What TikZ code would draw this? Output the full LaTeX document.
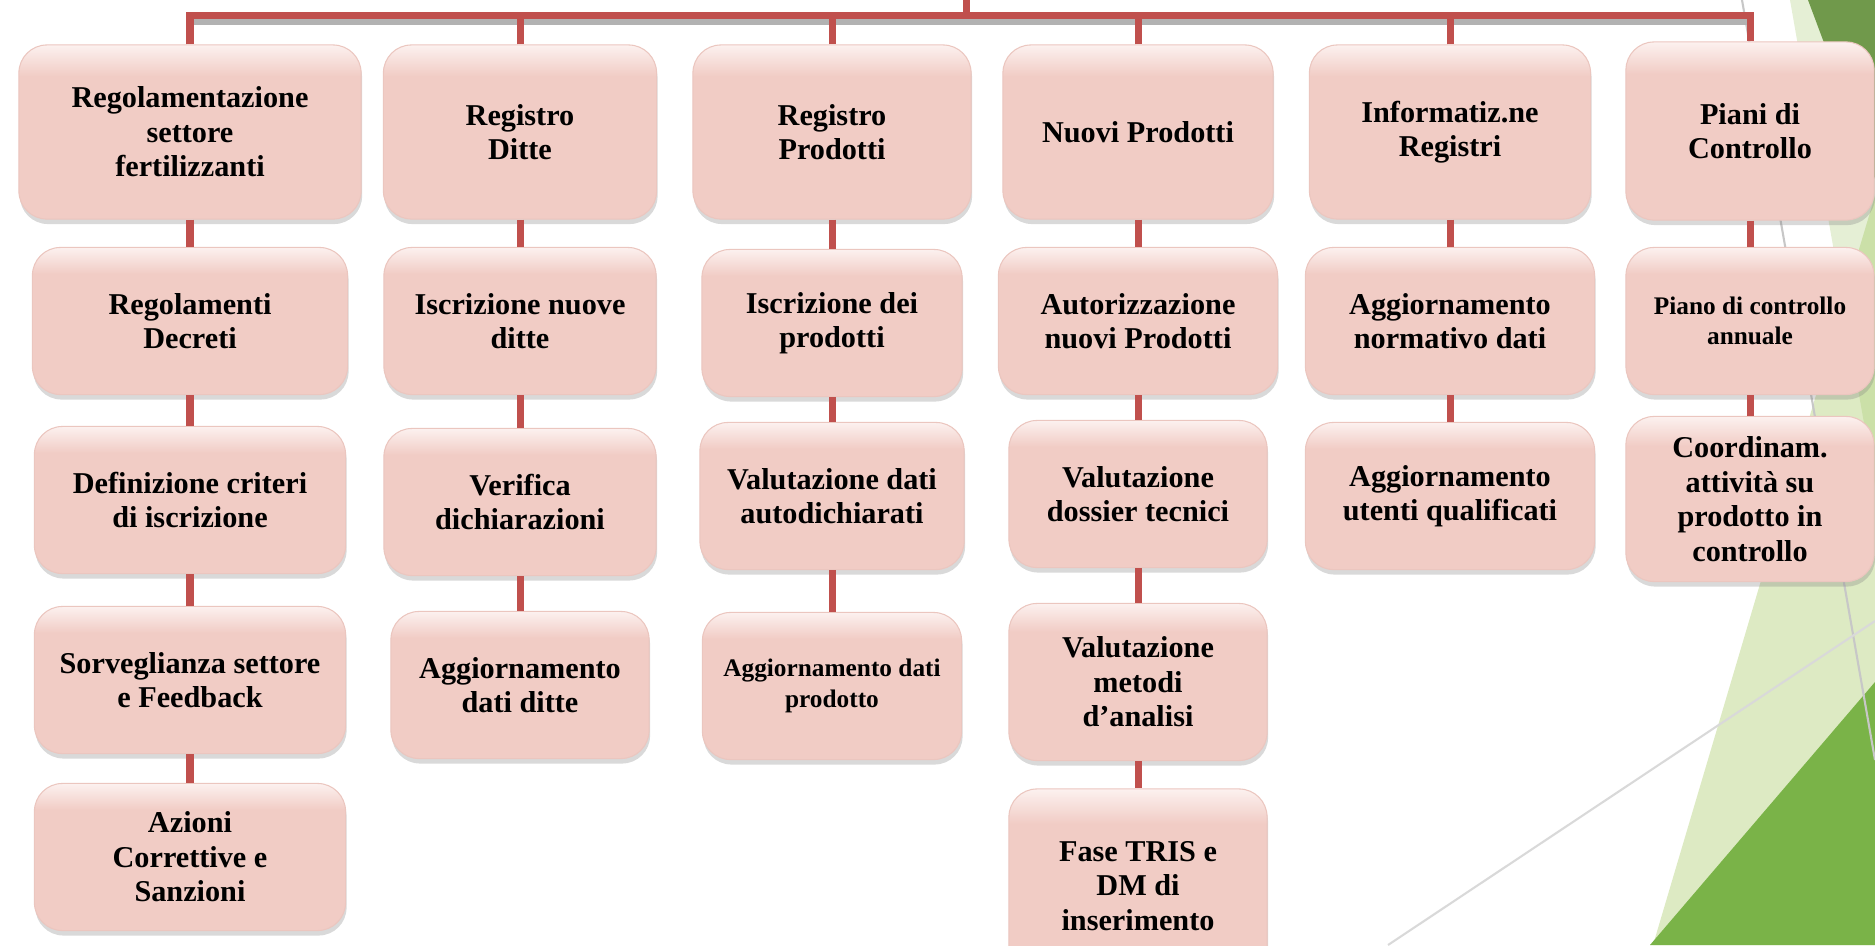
\documentclass[tikz,border=0pt]{standalone}
\usepackage{fontspec}
\setmainfont{Liberation Serif}
\usetikzlibrary{shadows}
\definecolor{barred}{HTML}{C0504D}
\definecolor{boxpink}{HTML}{F1CCC5}
\definecolor{boxtop}{HTML}{FCF1EF}
\definecolor{boxedge}{HTML}{EBC6BF}
\definecolor{leafpale}{HTML}{E5EFD5}
\definecolor{leaflight}{HTML}{DDEAC3}
\definecolor{leafmix}{HTML}{CBE0A8}
\definecolor{leafdark}{HTML}{70994B}
\definecolor{leafgreen}{HTML}{7AB348}
\pgfdeclareverticalshading{boxbevel}{100bp}{color(0bp)=(boxpink); color(25bp)=(boxpink);
  color(66bp)=(boxpink); color(75bp)=(boxtop); color(100bp)=(boxtop)}

\begin{document}
\begin{tikzpicture}[x=0.01cm,y=-0.01cm,
    box/.style={rectangle,rounded corners=0.28cm,draw=boxedge,line width=0.3pt,
      shade,shading=boxbevel,
      align=center,inner sep=2pt,font=\bfseries\fontsize{8.6}{9.8}\selectfont,
      drop shadow={shadow xshift=0.01cm,shadow yshift=-0.05cm,opacity=0.3}},
    head/.style={box,minimum height=1.74cm},
    item/.style={box,minimum height=1.47cm},
    small/.style={font=\bfseries\fontsize{7.2}{8.6}\selectfont},
    link/.style={draw=barred,line width=0.07cm},
    barshadow/.style={draw=black!30,line width=0.06cm}]
    \useasboundingbox (0,0) rectangle (1875,945);
    \clip (0,0) rectangle (1875,945);

    % background on the right
    \fill[leafpale] (1790,0) -- (1875,0) -- (1875,486) -- cycle;
    \fill[leaflight] (1653,945) -- (1875,196) -- (1875,945) -- cycle;
    \fill[leafmix] (1875,196) -- (1843,303) -- (1875,486) -- cycle;
    \fill[leafdark] (1808,0) -- (1875,0) -- (1875,179) -- cycle;
    \fill[leafgreen] (1650,945) -- (1875,682) -- (1875,945) -- cycle;
    \draw[black!22,line width=0.6pt] (1742,0) -- (1875,760);
    \draw[black!15,line width=0.6pt] (1388,945) -- (1875,621);

    % column 1
    \draw (190,132) node[head,minimum width=3.42cm] (c1a) {Regolamentazione\\settore\\fertilizzanti};
    \draw (190,321) node[item,minimum width=3.15cm] (c1b) {Regolamenti\\Decreti};
    \draw (190,500) node[item,minimum width=3.11cm] (c1c) {Definizione criteri\\di iscrizione};
    \draw (190,680) node[item,minimum width=3.11cm] (c1d) {Sorveglianza settore\\e Feedback};
    \draw (190,857) node[item,minimum width=3.11cm] (c1e) {Azioni\\Correttive e\\Sanzioni};

    % column 2
    \draw (520,132) node[head,minimum width=2.73cm] (c2a) {Registro\\Ditte};
    \draw (520,321) node[item,minimum width=2.72cm] (c2b) {Iscrizione nuove\\ditte};
    \draw (520,502) node[item,minimum width=2.72cm] (c2c) {Verifica\\dichiarazioni};
    \draw (520,685) node[item,minimum width=2.58cm] (c2d) {Aggiornamento\\dati ditte};

    % column 3
    \draw (832,132) node[head,minimum width=2.78cm] (c3a) {Registro\\Prodotti};
    \draw (832,323) node[item,minimum width=2.60cm] (c3b) {Iscrizione dei\\prodotti};
    \draw (832,496) node[item,minimum width=2.64cm] (c3c) {Valutazione dati\\autodichiarati};
    \draw (832,686) node[item,small,minimum width=2.59cm] (c3d) {Aggiornamento dati\\prodotto};

    % column 4
    \draw (1138,132) node[head,minimum width=2.70cm] (c4a) {Nuovi Prodotti};
    \draw (1138,321) node[item,minimum width=2.79cm] (c4b) {Autorizzazione\\nuovi Prodotti};
    \draw (1138,494) node[item,minimum width=2.58cm] (c4c) {Valutazione\\dossier tecnici};
    \draw (1138,682) node[item,minimum width=2.58cm,minimum height=1.57cm] (c4d) {Valutazione\\metodi\\d’analisi};
    \draw (1138,886) node[item,minimum width=2.58cm,minimum height=1.94cm] (c4e) {Fase TRIS e\\DM di\\inserimento};

    % column 5
    \draw (1450,132) node[head,minimum width=2.81cm] (c5a) {Informatiz.ne\\Registri};
    \draw (1450,321) node[item,minimum width=2.89cm] (c5b) {Aggiornamento\\normativo dati};
    \draw (1450,496) node[item,minimum width=2.89cm] (c5c) {Aggiornamento\\utenti qualificati};

    % column 6
    \draw (1750,131) node[head,minimum width=2.48cm,minimum height=1.78cm] (c6a) {Piani di\\Controllo};
    \draw (1750,321) node[item,small,minimum width=2.48cm] (c6b) {Piano di controllo\\annuale};
    \draw (1750,499) node[item,minimum width=2.48cm,minimum height=1.65cm] (c6c) {Coordinam.\\attività su\\prodotto in\\controllo};

    % top bar
    \coordinate (bar) at (966,15);
    \draw[barshadow] (186,22) -- (1747,22);
    \draw[link] (966,0) -- (bar);
    \draw[link] (c1a.north) -- (c1a.north |- bar) -- (c6a.north |- bar) -- (c6a.north);
    \draw[link] (c2a.north) -- (c2a.north |- bar);
    \draw[link] (c3a.north) -- (c3a.north |- bar);
    \draw[link] (c4a.north) -- (c4a.north |- bar);
    \draw[link] (c5a.north) -- (c5a.north |- bar);

    % links down the columns
    \draw[link] (c1a) -- (c1b);
    \draw[link] (c1b) -- (c1c);
    \draw[link] (c1c) -- (c1d);
    \draw[link] (c1d) -- (c1e);
    \draw[link] (c2a) -- (c2b);
    \draw[link] (c2b) -- (c2c);
    \draw[link] (c2c) -- (c2d);
    \draw[link] (c3a) -- (c3b);
    \draw[link] (c3b) -- (c3c);
    \draw[link] (c3c) -- (c3d);
    \draw[link] (c4a) -- (c4b);
    \draw[link] (c4b) -- (c4c);
    \draw[link] (c4c) -- (c4d);
    \draw[link] (c4d) -- (c4e);
    \draw[link] (c5a) -- (c5b);
    \draw[link] (c5b) -- (c5c);
    \draw[link] (c6a) -- (c6b);
    \draw[link] (c6b) -- (c6c);
\end{tikzpicture}
\end{document}
